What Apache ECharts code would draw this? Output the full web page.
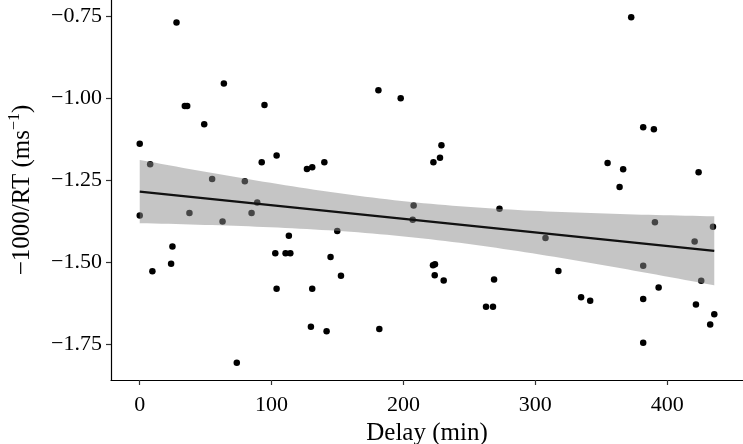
<!DOCTYPE html>
<html><head><meta charset="utf-8">
<script src="https://cdn.jsdelivr.net/npm/echarts@6/dist/echarts.min.js"></script>
<style>html,body{margin:0;padding:0;background:#fff}#c{width:743px;height:444px}</style>
</head><body><div id="c"></div>
<script>
// Delay (min) of each observation
const delay = [0, 0, 7.9, 9.6, 23.8, 24.8, 27.9, 34.2, 36, 37.7, 48.9, 54.9, 62.8, 63.8, 73.6, 79.7, 84.8, 89.1, 92.5, 94.6,
  103.8, 102.8, 103.8, 110.6, 113.1, 114.2, 126.8, 130.8, 130.8, 129.8, 140, 141.7, 144.7, 149.8, 152.6, 181, 181.7, 197.9,
  207.7, 207, 222.7, 227.7, 228.8, 222.4, 223.9, 223.7, 230.5, 262.6, 267.9, 268.7, 272.8, 307.7, 317.5, 334.7, 341.6,
  354.8, 363.9, 366.6, 372.7, 381.8, 389.9, 390.7, 381.8, 381.8, 381.8, 393.5, 420.8, 421.8, 423.8, 425.8, 434.7, 435.7, 432.6];
// -1000/RT (ms^-1) of each observation
const invRT = [-1.138, -1.357, -1.201, -1.528, -1.505, -1.452, -0.768, -1.023, -1.023, -1.35, -1.079, -1.246, -1.376, -0.954, -1.807, -1.253, -1.35, -1.318, -1.195, -1.020,
  -1.174, -1.473, -1.581, -1.473, -1.419, -1.473, -1.215, -1.210, -1.581, -1.697, -1.195, -1.711, -1.484, -1.405, -1.541, -0.975, -1.704, -0.999,
  -1.327, -1.370, -1.195, -1.181, -1.143, -1.509, -1.506, -1.540, -1.556, -1.636, -1.636, -1.553, -1.337, -1.426, -1.527, -1.607, -1.618,
  -1.197, -1.270, -1.216, -0.752, -1.0875, -1.094, -1.378, -1.511, -1.612, -1.746, -1.577, -1.437, -1.629, -1.225, -1.557, -1.392, -1.659, -1.690];
const xTicks = [0, 100, 200, 300, 400];
const yTicks = [-1.75, -1.5, -1.25, -1.0, -0.75];

// linear model fit with 95% confidence band (as geom_smooth(method = "lm"))
const n = delay.length;
const mx = delay.reduce((s, v) => s + v, 0) / n;
const my = invRT.reduce((s, v) => s + v, 0) / n;
let sxx = 0, sxy = 0;
for (let i = 0; i < n; i++) { sxx += (delay[i] - mx) ** 2; sxy += (delay[i] - mx) * (invRT[i] - my); }
const slope = sxy / sxx, icpt = my - slope * mx;
let sse = 0;
for (let i = 0; i < n; i++) sse += (invRT[i] - (icpt + slope * delay[i])) ** 2;
const sd = Math.sqrt(sse / (n - 2));
const df = n - 2, z = 1.959964;
const tq = z + (z ** 3 + z) / (4 * df) + (5 * z ** 5 + 16 * z ** 3 + 3 * z) / (96 * df * df);
const xmin = Math.min(...delay), xmax = Math.max(...delay);
const bandX = [], bandLo = [], bandHi = [], fitY = [];
for (let k = 0; k < 80; k++) {
  const x = xmin + (xmax - xmin) * k / 79;
  const f = icpt + slope * x;
  const se = sd * Math.sqrt(1 / n + (x - mx) ** 2 / sxx);
  bandX.push(x); fitY.push(f); bandLo.push(f - tq * se); bandHi.push(f + tq * se);
}
const ymin = Math.min(...invRT, ...bandLo), ymax = Math.max(...invRT, ...bandHi);
const ex = (xmax - xmin) * 0.05, ey = (ymax - ymin) * 0.05;

const font = 'Liberation Serif, Times New Roman, serif';
const chart = echarts.init(document.getElementById('c'));
chart.setOption({
  animation: false,
  backgroundColor: '#fff',
  grid: { left: 111, right: 0, top: 0, bottom: 64, containLabel: false, outerBoundsMode: 'none' },
  xAxis: {
    type: 'value', min: xmin - ex, max: xmax + ex,
    name: 'Delay (min)', nameLocation: 'middle', nameGap: 41,
    nameTextStyle: { fontFamily: font, fontSize: 25, color: '#000' },
    axisLine: { onZero: false, lineStyle: { color: '#000', width: 1.2 } },
    axisTick: { show: true, length: 5, lineStyle: { color: '#333', width: 1.2 }, customValues: xTicks },
    axisLabel: { fontFamily: font, fontSize: 22, color: '#000', margin: 14, customValues: xTicks },
    splitLine: { show: false }
  },
  yAxis: {
    type: 'value', min: ymin - ey, max: ymax + ey,
    name: '{a|−1000/RT (ms}{s|−1}{a|)}', nameLocation: 'middle', nameGap: 74,
    nameTextStyle: { fontFamily: font, fontSize: 25, color: '#000',
      rich: { a: { fontFamily: font, fontSize: 25, color: '#000', lineHeight: 30 },
              s: { fontFamily: font, fontSize: 16, color: '#000', verticalAlign: 'top', lineHeight: 30 } } },
    axisLine: { show: true, onZero: false, lineStyle: { color: '#000', width: 1.2 } },
    axisTick: { show: true, length: 5, lineStyle: { color: '#333', width: 1.2 }, customValues: yTicks },
    axisLabel: { fontFamily: font, fontSize: 22, color: '#000', margin: 9, customValues: yTicks,
      formatter: v => v.toFixed(2).replace('-', '−') },
    splitLine: { show: false }
  },
  series: [
    { type: 'scatter', data: delay.map((x, i) => [x, invRT[i]]), symbolSize: 6.5,
      itemStyle: { color: '#000', opacity: 1 }, z: 2, silent: true },
    { type: 'custom', z: 3, silent: true, clip: true,
      data: [[bandX[0], bandLo[0]]],
      renderItem: (params, api) => {
        const top = bandX.map((x, i) => api.coord([x, bandHi[i]]));
        const bot = bandX.map((x, i) => api.coord([x, bandLo[i]])).reverse();
        return { type: 'polygon', shape: { points: top.concat(bot) }, style: { fill: 'rgba(140,140,140,0.5)' } };
      } },
    { type: 'line', data: bandX.map((x, i) => [x, fitY[i]]), showSymbol: false, z: 4, silent: true,
      lineStyle: { color: '#111', width: 2.2 } }
  ]
});
</script>
</body></html>
